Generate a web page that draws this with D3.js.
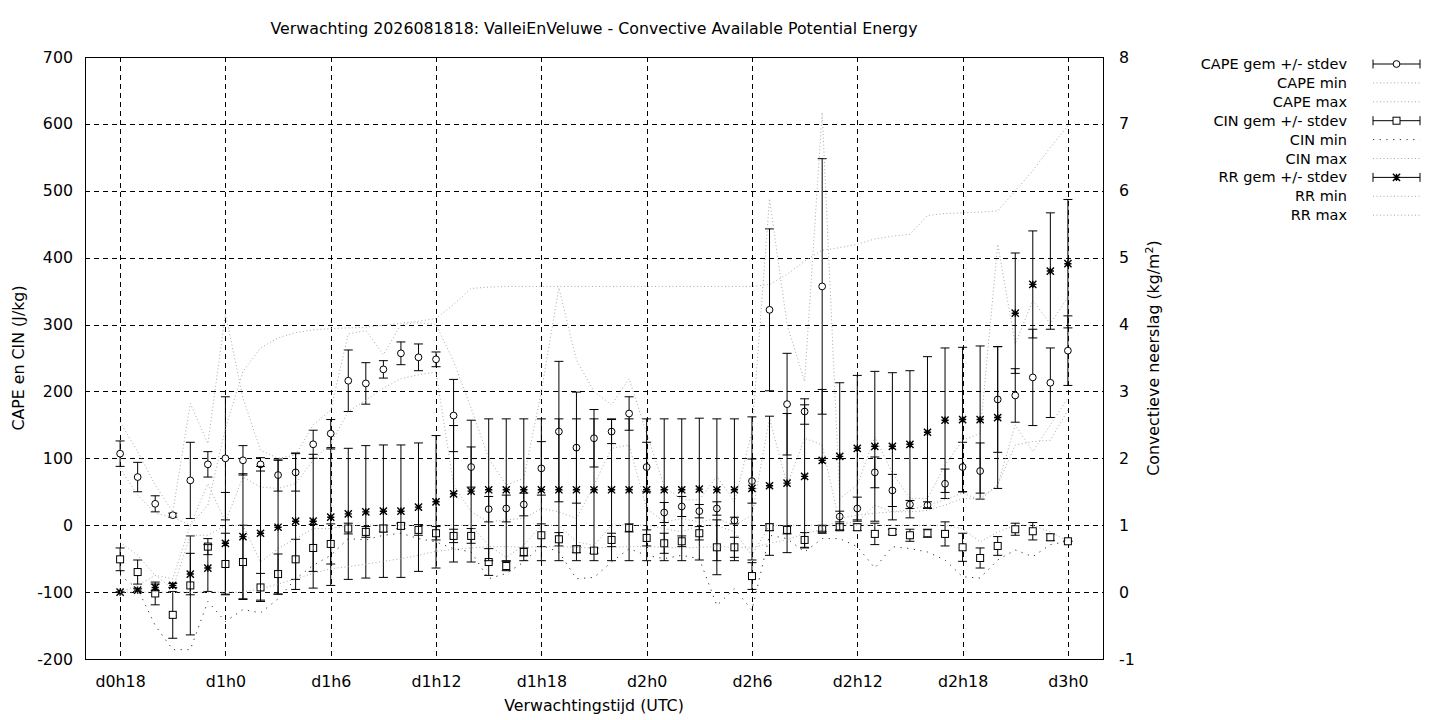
<!DOCTYPE html>
<html>
<head>
<meta charset="utf-8">
<script src="https://cdn.jsdelivr.net/npm/d3@7"></script>
<style>
  body { margin: 0; background: #fff; }
  text { font-family: "DejaVu Sans", sans-serif; font-size: 15.8px; fill: #000; }
  .legend text { font-size: 14.5px; }
</style>
</head>
<body>
<div id="chart"></div>
<script>
// forecast steps (hours after d0h18) and x tick labels
var tickHours = [0, 6, 12, 18, 24, 30, 36, 42, 48, 54];
var tickLabels = ["d0h18", "d1h0", "d1h6", "d1h12", "d1h18", "d2h0", "d2h6", "d2h12", "d2h18", "d3h0"];

// CAPE (J/kg)
var capeMean = [107,72,32,15,67,91,100,97,91,75,79,121,137,216,212,233,257,251,248,164,87,24,25,31,85,140,116,130,140,167,87,19,28,21,25,7,66,322,181,170,357,13,25,79,52,31,30,62,87,81,188,194,221,213,261];
var capeSd = [19,22,12,3,57,19,92,22,10,24,28,21,21,46,31,13,17,20,11,54,30,19,20,17,40,105,83,43,18,25,37,15,15,10,10,5,33,121,76,19,191,8,17,23,24,6,5,22,37,42,79,40,72,52,52];
var capeMin = [85,45,18,12,0,62,5,72,57,55,62,97,122,170,187,205,219,225,229,60,20,5,8,10,25,20,10,60,115,120,25,5,10,5,10,0,15,160,60,130,120,2,5,30,20,20,22,30,40,40,60,150,110,150,190];
var capeMax = [154,110,60,20,182,122,316,190,112,100,105,150,172,286,291,255,300,303,300,245,175,100,60,70,200,355,247,200,180,219,137,58,38,38,73,35,140,488,300,215,617,40,60,132,78,40,40,90,127,137,420,271,336,301,341];

// CIN (J/kg)
var cinMean = [-51,-70,-102,-134,-90,-32,-58,-55,-93,-73,-51,-34,-28,-5,-10,-5,-1,-7,-12,-16,-16,-55,-61,-40,-15,-21,-36,-38,-22,-4,-19,-27,-24,-12,-33,-33,-76,-3,-7,-22,-6,-3,-3,-13,-10,-15,-12,-13,-33,-49,-31,-6,-9,-18,-24];
var cinSd = [17,18,17,35,74,12,46,55,21,30,30,35,30,8,8,5,4,8,10,10,11,20,7,6,17,10,5,4,10,6,12,15,8,10,41,15,20,5,6,11,6,5,5,16,4,9,6,18,21,15,14,9,13,5,0];
var cinMin = [-75,-95,-150,-186,-186,-114,-144,-126,-131,-110,-80,-60,-45,-20,-22,-15,-12,-20,-25,-35,-40,-80,-72,-55,-30,-40,-80,-78,-55,-35,-45,-50,-45,-50,-120,-95,-127,-15,-20,-40,-20,-20,-32,-64,-32,-35,-40,-52,-77,-79,-52,-37,-47,-29,-24];
var cinMax = [-25,-45,-75,-95,-15,-15,0,0,-55,-35,-20,-5,-5,0,0,0,0,0,0,0,0,-30,-48,-30,0,0,-25,-30,0,0,0,-5,-10,0,0,-10,-45,0,0,0,0,0,0,0,0,0,0,0,-5,-25,-10,0,0,-10,-24];

// convective rain (kg/m2)
var rrMean = [0,0.03,0.07,0.1,0.27,0.36,0.73,0.83,0.88,0.97,1.06,1.06,1.12,1.17,1.2,1.21,1.21,1.27,1.35,1.47,1.51,1.53,1.53,1.53,1.53,1.53,1.53,1.53,1.53,1.53,1.53,1.53,1.53,1.54,1.53,1.53,1.55,1.59,1.63,1.73,1.97,2.03,2.15,2.18,2.18,2.21,2.39,2.57,2.58,2.58,2.61,4.17,4.6,4.8,4.91];
var rrSd = [0,0.02,0.05,0.03,0.31,0.35,0.76,0.94,1.0,1.0,1.02,1.0,1.02,0.98,0.99,0.99,0.99,0.96,0.99,1.02,1.06,1.06,1.06,1.06,1.06,1.06,1.06,1.06,1.06,1.06,1.06,1.06,1.06,1.06,1.06,1.06,1.07,1.04,1.04,1.07,1.06,1.1,1.09,1.12,1.1,1.1,1.13,1.08,1.08,1.1,1.06,0.9,0.8,0.87,0.96];
var rrMin = [0,0,0,0,0,0,0,0,0.05,0.12,0.2,0.28,0.35,0.38,0.42,0.46,0.5,0.55,0.61,0.64,0.66,0.68,0.68,0.67,0.68,0.68,0.67,0.66,0.67,0.68,0.68,0.67,0.66,0.67,0.68,0.67,0.66,0.73,0.78,0.88,0.93,1.1,1.15,1.18,1.2,1.23,1.3,1.38,1.48,1.38,1.6,2.2,2.25,2.27,2.72];
var rrMax = [0,0.1,0.25,0.2,1.0,1.3,2.45,3.3,3.65,3.8,3.88,3.92,3.94,3.95,3.96,3.99,4.02,4.05,4.09,4.3,4.54,4.56,4.57,4.57,4.57,4.57,4.57,4.57,4.57,4.57,4.57,4.57,4.57,4.57,4.57,4.57,4.57,4.6,4.75,4.95,5.11,5.15,5.2,5.28,5.32,5.35,5.63,5.66,5.67,5.68,5.7,6.0,6.3,6.65,6.97];

var leftTicks = [-200,-100,0,100,200,300,400,500,600,700];
var rightTicks = [-1,0,1,2,3,4,5,6,7,8];

var width = 1440, height = 720;
var plotLeft = 85, plotRight = 1103, plotTop = 57, plotBottom = 659;

var x = d3.scaleLinear().domain([-2, 56]).range([plotLeft, plotRight]);
var yL = d3.scaleLinear().domain([-200, 700]).range([plotBottom, plotTop]);
var yR = d3.scaleLinear().domain([-1, 8]).range([plotBottom, plotTop]);

var svg = d3.select("#chart").append("svg")
    .attr("width", width)
    .attr("height", height);

var lightGrey = "#a9a9a9";

// grid
var grid = svg.append("g").attr("stroke", "#000").attr("stroke-dasharray", "5,4").attr("shape-rendering", "crispEdges");
grid.selectAll("line.gx").data(tickHours).enter().append("line")
    .attr("x1", function(d) { return Math.round(x(d)) + 0.5; })
    .attr("x2", function(d) { return Math.round(x(d)) + 0.5; })
    .attr("y1", plotTop).attr("y2", plotBottom);
grid.selectAll("line.gy").data(leftTicks.slice(1, -1)).enter().append("line")
    .attr("x1", plotLeft).attr("x2", plotRight)
    .attr("y1", function(d) { return Math.round(yL(d)) + 0.5; })
    .attr("y2", function(d) { return Math.round(yL(d)) + 0.5; });

// axes (labels only, gnuplot style)
function cleanAxis(g) {
    g.select(".domain").remove();
    g.attr("font-family", null).attr("font-size", null);
}
var plainNumber = function(d) { return String(d); }; // keep ascii hyphen for negatives

var xAxis = d3.axisBottom(x).tickValues(tickHours)
    .tickFormat(function(d, i) { return tickLabels[i]; }).tickSize(0).tickPadding(17);
svg.append("g").attr("transform", "translate(0," + plotBottom + ")").call(xAxis).call(cleanAxis);

var yAxisL = d3.axisLeft(yL).tickValues(leftTicks).tickFormat(plainNumber).tickSize(0).tickPadding(12);
svg.append("g").attr("transform", "translate(" + plotLeft + ",0)").call(yAxisL).call(cleanAxis);

var yAxisR = d3.axisRight(yR).tickValues(rightTicks).tickFormat(plainNumber).tickSize(0).tickPadding(16);
svg.append("g").attr("transform", "translate(" + plotRight + ",0)").call(yAxisR).call(cleanAxis);

// border
svg.append("rect")
    .attr("x", plotLeft + 0.5).attr("y", plotTop + 0.5)
    .attr("width", plotRight - plotLeft).attr("height", plotBottom - plotTop)
    .attr("fill", "none").attr("stroke", "#000");

var idx = d3.range(capeMean.length);

function dottedLine(vals, scale, color, dash) {
    var line = d3.line()
        .x(function(d, i) { return x(i); })
        .y(function(d) { return scale(d); });
    svg.append("path")
        .datum(vals)
        .attr("d", line)
        .attr("fill", "none")
        .attr("stroke", color)
        .attr("stroke-width", 1)
        .attr("stroke-dasharray", dash);
}

function errorBars(mean, sd, scale) {
    var g = svg.append("g").attr("stroke", "#000").attr("stroke-width", 1);
    idx.forEach(function(i) {
        var cx = x(i);
        var y1 = scale(mean[i] + sd[i]), y2 = scale(mean[i] - sd[i]);
        g.append("line").attr("x1", cx).attr("x2", cx).attr("y1", y1).attr("y2", y2);
        g.append("line").attr("x1", cx - 4.5).attr("x2", cx + 4.5).attr("y1", y1).attr("y2", y1);
        g.append("line").attr("x1", cx - 4.5).attr("x2", cx + 4.5).attr("y1", y2).attr("y2", y2);
    });
}

function marker(g, type, cx, cy) {
    if (type == "circle") {
        g.append("circle").attr("cx", cx).attr("cy", cy).attr("r", 3.4)
            .attr("fill", "#fff").attr("stroke", "#000");
    } else if (type == "square") {
        g.append("rect").attr("x", cx - 3.5).attr("y", cy - 3.5).attr("width", 7).attr("height", 7)
            .attr("fill", "#fff").attr("stroke", "#000");
    } else {
        var s = 3.6;
        g.append("path")
            .attr("d", "M" + (cx - s) + "," + cy + "H" + (cx + s) + "M" + cx + "," + (cy - s) + "V" + (cy + s) +
                "M" + (cx - s) + "," + (cy - s) + "L" + (cx + s) + "," + (cy + s) +
                "M" + (cx - s) + "," + (cy + s) + "L" + (cx + s) + "," + (cy - s))
            .attr("stroke", "#000").attr("stroke-width", 1.4).attr("fill", "none");
    }
}

function points(mean, scale, type) {
    var g = svg.append("g");
    idx.forEach(function(i) { marker(g, type, x(i), scale(mean[i])); });
}

// CAPE
errorBars(capeMean, capeSd, yL);
points(capeMean, yL, "circle");
dottedLine(capeMin, yL, lightGrey, "1,2.5");
dottedLine(capeMax, yL, lightGrey, "1,2.5");

// CIN
errorBars(cinMean, cinSd, yL);
points(cinMean, yL, "square");
dottedLine(cinMin, yL, "#333", "1.2,5.5");
dottedLine(cinMax, yL, lightGrey, "1,2.5");

// RR
errorBars(rrMean, rrSd, yR);
points(rrMean, yR, "star");
dottedLine(rrMin, yR, lightGrey, "1,2.5");
dottedLine(rrMax, yR, lightGrey, "1,2.5");

// title and axis labels
svg.append("text").attr("x", 594).attr("y", 34).attr("text-anchor", "middle")
    .text("Verwachting 2026081818: ValleiEnVeluwe - Convective Available Potential Energy");
svg.append("text").attr("x", 594).attr("y", 711).attr("text-anchor", "middle")
    .text("Verwachtingstijd (UTC)");
svg.append("text").attr("transform", "translate(24,358) rotate(-90)").attr("text-anchor", "middle")
    .text("CAPE en CIN (J/kg)");
var rl = svg.append("text").attr("transform", "translate(1159,358) rotate(-90)").attr("text-anchor", "middle");
rl.append("tspan").text("Convectieve neerslag (kg/m");
rl.append("tspan").attr("dy", -6).style("font-size", "11px").text("2");
rl.append("tspan").attr("dy", 6).text(")");

// legend
var legendItems = [
    { name: "CAPE gem +/- stdev", kind: "bar", mark: "circle" },
    { name: "CAPE min", kind: "dot", color: lightGrey, dash: "1,2.5" },
    { name: "CAPE max", kind: "dot", color: lightGrey, dash: "1,2.5" },
    { name: "CIN gem +/- stdev", kind: "bar", mark: "square" },
    { name: "CIN min", kind: "dot", color: "#333", dash: "1.2,5.5" },
    { name: "CIN max", kind: "dot", color: lightGrey, dash: "1,2.5" },
    { name: "RR gem +/- stdev", kind: "bar", mark: "star" },
    { name: "RR min", kind: "dot", color: lightGrey, dash: "1,2.5" },
    { name: "RR max", kind: "dot", color: lightGrey, dash: "1,2.5" }
];
var lg = svg.append("g").attr("class", "legend");
legendItems.forEach(function(d, i) {
    var ly = 64 + i * 18.9;
    lg.append("text").attr("x", 1347).attr("y", ly + 5).attr("text-anchor", "end").text(d.name);
    if (d.kind == "bar") {
        lg.append("path").attr("d", "M1373," + ly + "H1420M1373," + (ly - 4.5) + "V" + (ly + 4.5) +
            "M1420," + (ly - 4.5) + "V" + (ly + 4.5)).attr("stroke", "#000").attr("fill", "none");
        marker(lg, d.mark, 1396.5, ly);
    } else {
        lg.append("line").attr("x1", 1373).attr("x2", 1420).attr("y1", ly).attr("y2", ly)
            .attr("stroke", d.color).attr("stroke-dasharray", d.dash);
    }
});
</script>
</body>
</html>
